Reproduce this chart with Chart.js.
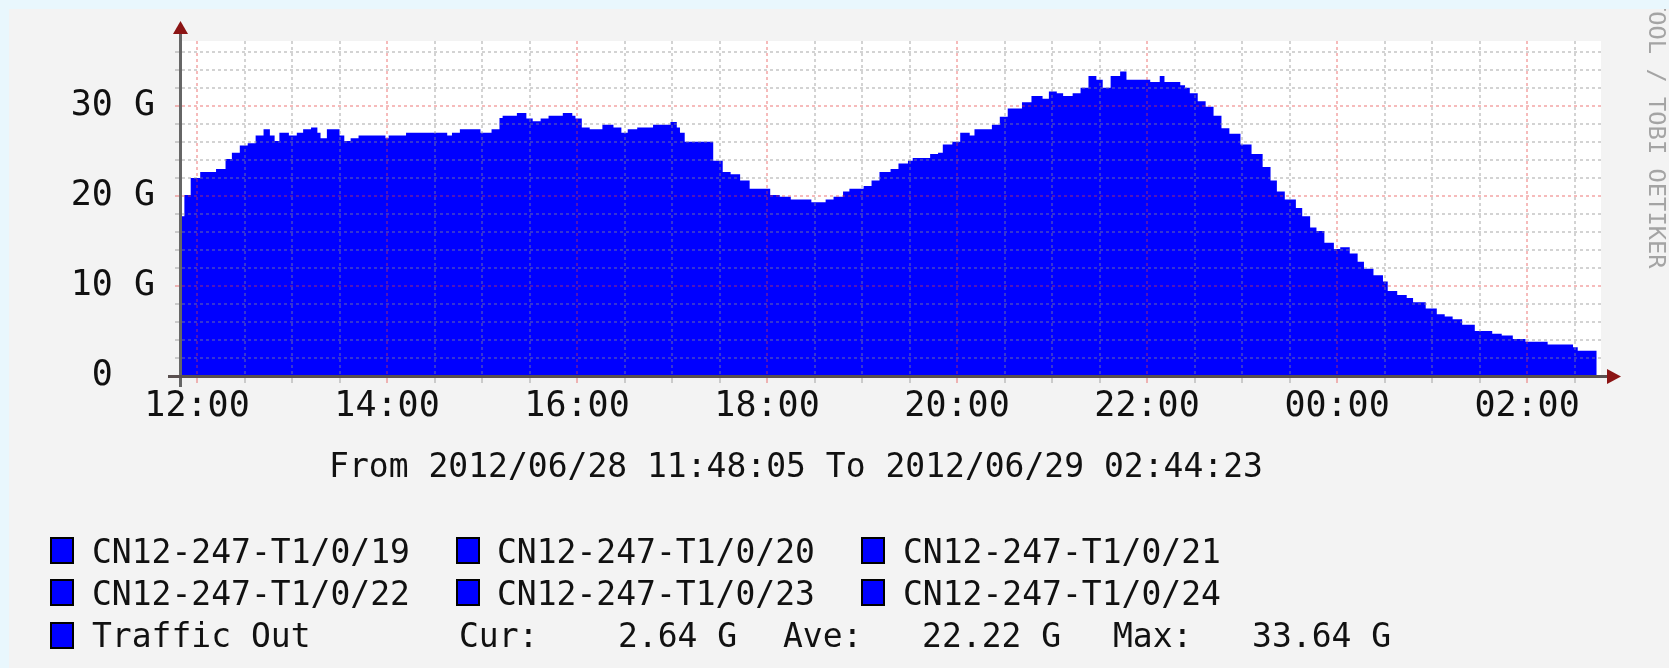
<!DOCTYPE html>
<html>
<head>
<meta charset="utf-8">
<script src="https://cdn.jsdelivr.net/npm/chart.js@4.4.1/dist/chart.umd.min.js"></script>
<style>
  html, body { margin: 0; padding: 0; }
  body { width: 1669px; height: 668px; background: #e9f7fd; position: relative; overflow: hidden;
         font-family: 'DejaVu Sans Mono', monospace; }
  #panel { position: absolute; left: 9px; top: 9px; right: 0; bottom: 0; background: #f3f3f3; }
  #c { position: absolute; left: 0; top: 0; }
  .txt { position: absolute; font-size: 33px; line-height: 33px; color: #111; white-space: pre; }
  .box { position: absolute; width: 20px; height: 23px; background: #0000ff; border: 2px solid #000; }
</style>
</head>
<body>
<div id="panel"></div>
<canvas id="c" width="1669" height="668"></canvas>
<div class="txt" style="left:0; width:1592px; text-align:center; top:449px;">From 2012/06/28 11:48:05 To 2012/06/29 02:44:23</div>
<div id="legend"></div>
<script>
// minutes after 12:00 (2012/06/28) where each step starts, and traffic in G
const times = [
  -12, -8, -4, 2, 12, 18, 22, 27, 32, 37,
  42, 46, 49, 52, 58, 63, 67, 72, 76, 78,
  82, 90, 93, 97, 102, 119, 121, 132, 158, 161,
  166, 179, 186, 191, 193, 202, 208, 212, 217, 222,
  231, 237, 239, 243, 248, 256, 263, 268, 272, 278,
  288, 299, 303, 305, 308, 326, 332, 337, 343, 349,
  362, 368, 375, 388, 397, 402, 408, 412, 421, 426,
  431, 438, 443, 449, 452, 463, 468, 471, 477, 482,
  488, 491, 502, 507, 512, 521, 527, 534, 538, 543,
  547, 553, 558, 563, 568, 572, 577, 583, 587, 602,
  608, 611, 621, 624, 627, 632, 637, 642, 647, 652,
  659, 666, 673, 678, 682, 687, 694, 698, 703, 707,
  712, 718, 722, 728, 733, 737, 743, 749, 752, 758,
  764, 768, 776, 783, 788, 793, 799, 807, 818, 824,
  831, 839, 853, 869, 872, 884
];
const trafficOut = [
  17.75, 20.1, 22.0, 22.65, 23.0, 24.1, 24.8, 25.6, 25.85, 26.7,
  27.4, 26.7, 26.1, 27.0, 26.7, 27.0, 27.4, 27.6, 27.0, 26.4,
  27.4, 26.7, 26.1, 26.4, 26.7, 26.4, 26.7, 27.0, 26.7, 27.0,
  27.4, 27.0, 27.4, 28.65, 28.9, 29.2, 28.6, 28.3, 28.6, 28.9,
  29.2, 28.9, 28.6, 27.6, 27.4, 27.9, 27.6, 27.0, 27.4, 27.6,
  27.9, 28.2, 27.6, 27.0, 26.0, 23.9, 22.65, 22.4, 21.7, 20.8,
  20.1, 19.9, 19.6, 19.3, 19.6, 19.9, 20.5, 20.8, 21.1, 21.7,
  22.65, 23.0, 23.6, 23.9, 24.2, 24.65, 24.8, 25.7, 26.0, 27.0,
  26.7, 27.4, 27.9, 28.8, 29.7, 30.4, 31.1, 30.8, 31.6, 31.4,
  31.1, 31.4, 32.0, 33.3, 32.9, 32.0, 33.3, 33.8, 32.9, 32.65,
  33.3, 32.65, 32.3, 32.0, 31.4, 30.5, 29.9, 28.9, 27.5, 26.9,
  25.7, 24.65, 23.2, 21.7, 20.5, 19.6, 18.65, 17.75, 16.5, 16.1,
  14.8, 14.1, 14.3, 13.6, 12.7, 11.9, 11.2, 10.5, 9.45, 9.0,
  8.65, 8.2, 7.5, 6.85, 6.6, 6.3, 5.7, 5.0, 4.7, 4.5,
  4.1, 3.8, 3.5, 3.2, 2.8, 2.64
];

// grid: every 30 min / every 2 G, labelled every 2 h / every 10 G
const xTicks = [0, 30, 60, 90, 120, 150, 180, 210, 240, 270, 300, 330, 360, 390, 420,
                450, 480, 510, 540, 570, 600, 630, 660, 690, 720, 750, 780, 810, 840, 870];
const xLabelAt = [0, 120, 240, 360, 480, 600, 720, 840];
const xLabels = ['12:00', '14:00', '16:00', '18:00', '20:00', '22:00', '00:00', '02:00'];
const yTicks = [0, 2, 4, 6, 8, 10, 12, 14, 16, 18, 20, 22, 24, 26, 28, 30, 32, 34, 36];
const yLabelAt = [0, 10, 20, 30];
const yLabels = ['0  ', '10 G', '20 G', '30 G'];

const legendNames = ['CN12-247-T1/0/19', 'CN12-247-T1/0/20', 'CN12-247-T1/0/21',
                     'CN12-247-T1/0/22', 'CN12-247-T1/0/23', 'CN12-247-T1/0/24'];
const statCur = '2.64', statAve = '22.22', statMax = '33.64';

// legend (rrdtool style, html text)
const legend = document.getElementById('legend');
const colBox = [50, 456, 861], colText = [92, 497, 903];
const rowBox = [537, 579, 622], rowText = [535, 577, 619];
function addBox(x, y) {
  const b = document.createElement('div');
  b.className = 'box'; b.style.left = x + 'px'; b.style.top = y + 'px';
  legend.appendChild(b);
}
function addText(s, x, y) {
  const t = document.createElement('div');
  t.className = 'txt'; t.textContent = s; t.style.left = x + 'px'; t.style.top = y + 'px';
  legend.appendChild(t);
}
legendNames.forEach((n, i) => {
  const r = Math.floor(i / 3), c = i % 3;
  addBox(colBox[c], rowBox[r]);
  addText(n, colText[c], rowText[r]);
});
addBox(colBox[0], rowBox[2]);
addText('Traffic Out', colText[0], rowText[2]);
addText('Cur:    ' + statCur + ' G', 459, rowText[2]);
addText('Ave:   ' + statAve + ' G', 783, rowText[2]);
addText('Max:   ' + statMax + ' G', 1113, rowText[2]);

const RED = 'rgba(230,60,60,0.35)';
const GRAY = 'rgba(140,140,140,0.38)';
const axisFont = { family: 'DejaVu Sans Mono', size: 35 };

const rrdDecor = {
  id: 'rrdDecor',
  beforeDraw(chart) {
    const { ctx, chartArea: a } = chart;
    ctx.save();
    ctx.fillStyle = '#ffffff';
    ctx.fillRect(a.left, a.top, a.right - a.left, a.bottom - a.top);
    ctx.restore();
  },
  afterDraw(chart) {
    const { ctx, chartArea: a } = chart;
    ctx.save();
    ctx.fillStyle = '#666666';
    ctx.fillRect(a.left - 3, a.top - 7, 3, a.bottom - a.top + 18);
    ctx.fillStyle = '#5a5050';
    ctx.fillRect(a.left - 14, a.bottom - 1, a.right - a.left + 20, 3);
    ctx.fillStyle = '#8b1414';
    ctx.beginPath();
    ctx.moveTo(a.left - 1.5, a.top - 20);
    ctx.lineTo(a.left - 9, a.top - 7);
    ctx.lineTo(a.left + 6, a.top - 7);
    ctx.closePath(); ctx.fill();
    ctx.beginPath();
    ctx.moveTo(a.right + 20, a.bottom + 0.5);
    ctx.lineTo(a.right + 6, a.bottom - 7);
    ctx.lineTo(a.right + 6, a.bottom + 8);
    ctx.closePath(); ctx.fill();
    // watermark, clipped by the top of the panel
    ctx.beginPath(); ctx.rect(0, 9, chart.width, chart.height); ctx.clip();
    ctx.translate(1655, -46);
    ctx.rotate(Math.PI / 2);
    ctx.font = '23.75px "DejaVu Sans Mono"';
    ctx.fillStyle = '#a4a4a4';
    ctx.textBaseline = 'middle';
    ctx.fillText('RRDTOOL / TOBI OETIKER', 0, 0);
    ctx.restore();
  }
};

new Chart(document.getElementById('c'), {
  type: 'line',
  data: {
    datasets: [{
      label: 'Traffic Out',
      data: times.map((t, i) => ({ x: t, y: trafficOut[i] })),
      stepped: 'before',
      fill: 'origin',
      backgroundColor: '#0000ff',
      borderColor: '#0000ff',
      borderWidth: 0,
      pointRadius: 0
    }]
  },
  options: {
    responsive: false,
    animation: false,
    devicePixelRatio: 1,
    layout: { padding: { left: 0, top: 35, right: 68, bottom: 0 } },
    plugins: { legend: { display: false }, tooltip: { enabled: false } },
    scales: {
      x: {
        type: 'linear', min: -9.5, max: 886.7,
        afterBuildTicks: s => { s.ticks = xTicks.map(v => ({ value: v })); },
        afterFit: s => { s.height = 292; },
        grid: {
          color: c => xLabelAt.includes(c.tick.value) ? RED : GRAY,
          tickColor: c => xLabelAt.includes(c.tick.value) ? RED : GRAY,
          lineWidth: 2, tickWidth: 2, tickLength: 7, z: 1
        },
        border: { display: false, dash: [3, 3] },
        ticks: {
          autoSkip: false, maxRotation: 0, padding: 3, color: '#111', font: axisFont,
          callback: v => { const k = xLabelAt.indexOf(v); return k < 0 ? '' : xLabels[k]; }
        }
      },
      y: {
        min: 0, max: 37.2,
        afterBuildTicks: s => { s.ticks = yTicks.map(v => ({ value: v })); },
        afterFit: s => { s.width = 182; },
        grid: {
          color: c => yLabelAt.includes(c.tick.value) ? RED : GRAY,
          tickColor: c => yLabelAt.includes(c.tick.value) ? RED : GRAY,
          lineWidth: 2, tickWidth: 2, tickLength: 7, z: 1
        },
        border: { display: false, dash: [3, 3] },
        ticks: {
          autoSkip: false, padding: 20, color: '#111', font: axisFont,
          callback: v => { const k = yLabelAt.indexOf(v); return k < 0 ? '' : yLabels[k]; }
        }
      }
    }
  },
  plugins: [rrdDecor]
});
</script>
</body>
</html>
